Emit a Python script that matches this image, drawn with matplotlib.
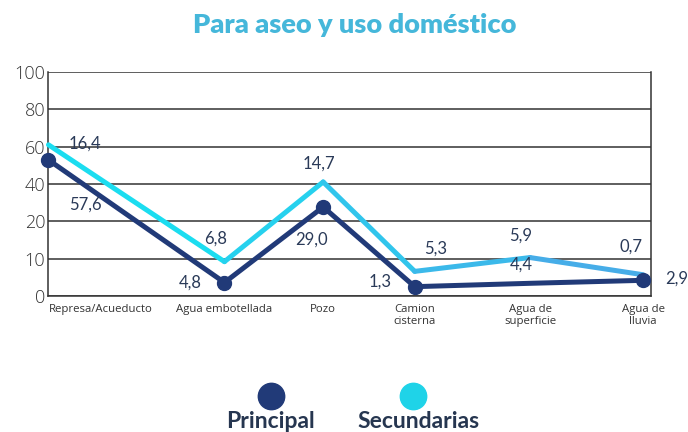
import numpy as np
import matplotlib
matplotlib.use("Agg")
import matplotlib.pyplot as plt
from matplotlib.lines import Line2D
from matplotlib.colors import LinearSegmentedColormap

# ---- data ----
categories = ["Represa/Acueducto", "Agua embotellada", "Pozo",
              "Camion\ncisterna", "Agua de\nsuperficie", "Agua de\nlluvia"]
principal_plot = [52.9, 3.6, 27.7, 2.5, 3.4, 4.2]
secundarias_plot = [61.0, 9.2, 41.1, 6.6, 10.3, 5.7]
principal_labels = ["57,6", "4,8", "29,0", "1,3", "4,4", "2,9"]
secundarias_labels = ["16,4", "6,8", "14,7", "5,3", "5,9", "0,7"]
y_ticks = [0, 10, 20, 40, 60, 80, 100]

# layout (category placement along the axis, irregular as in the source)
x_pos = [0, 1.48, 2.31, 3.08, 4.05, 5.0]

navy = "#213A78"
cyan_l = "#1BDDF0"
cyan_r = "#46ADE8"
text_dark = "#2A3A58"

plt.rcParams['font.family'] = ['Open Sans', 'DejaVu Sans']

fig = plt.figure(figsize=(6.88, 4.32), dpi=100)
ax = fig.add_axes([48 / 688, 1 - 296 / 432, (651 - 48) / 688, (296 - 72) / 432])

# piecewise scale: ticks equally spaced
pos = np.arange(len(y_ticks), dtype=float)
vals = np.array(y_ticks, dtype=float)
fwd = lambda v: np.interp(v, vals, pos)
inv = lambda p: np.interp(p, pos, vals)
ax.set_yscale('function', functions=(fwd, inv))
ax.set_ylim(0, 100)
ax.set_yticks(y_ticks)
ax.set_yticklabels([str(t) for t in y_ticks], fontsize=13, color="#333333",
                   fontweight='light')
ax.set_xlim(-0.004, 5.067)

for t in y_ticks:
    ax.axhline(t, color="#333333", lw=1.1, zorder=1)

for s in ["left", "right", "bottom"]:
    ax.spines[s].set_color("#333333")
    ax.spines[s].set_linewidth(1.1)
ax.spines["top"].set_visible(False)
ax.tick_params(axis='y', length=0, pad=2)
ax.tick_params(axis='x', length=0, pad=6)

ax.set_xticks(x_pos)
ax.set_xticklabels(categories, fontsize=8.2, color="#333333", linespacing=1.1)
tl = ax.get_xticklabels()
tl[0].set_horizontalalignment('left')
tl[0].set_x(-0.004)

# cyan line with gradient
cmap = LinearSegmentedColormap.from_list("c", [cyan_l, cyan_r])
n = len(x_pos)
for i in range(n - 1):
    ax.plot(x_pos[i:i + 2], secundarias_plot[i:i + 2], color=cmap(i / (n - 2)),
            lw=3.6, solid_capstyle='round', zorder=3, clip_on=False)

ax.plot(x_pos, principal_plot, color=navy, lw=3.6, zorder=4,
        solid_capstyle='round', solid_joinstyle='miter', clip_on=False)
mk = [0, 1, 2, 3, 5]
ax.plot([x_pos[i] for i in mk], [principal_plot[i] for i in mk], 'o',
        color=navy, ms=10, zorder=5, clip_on=False)

# data labels (offsets in points)
k = 0.72
p_off = [(37, -45), (-34, 0), (-12, -33), (-35, 5), (-9, 19), (34, 2)]
s_off = [(36, 1), (-9, 23), (-4, 18), (21, 23), (-9, 22), (-12, 28)]
for i in range(n):
    ax.annotate(principal_labels[i], (x_pos[i], principal_plot[i]),
                xytext=(p_off[i][0] * k, p_off[i][1] * k), textcoords='offset points',
                ha='center', va='center', fontsize=12, color=text_dark,
                family=['Lato', 'DejaVu Sans'], annotation_clip=False, zorder=6)
    ax.annotate(secundarias_labels[i], (x_pos[i], secundarias_plot[i]),
                xytext=(s_off[i][0] * k, s_off[i][1] * k), textcoords='offset points',
                ha='center', va='center', fontsize=12, color=text_dark,
                family=['Lato', 'DejaVu Sans'], annotation_clip=False, zorder=6)

# title
fig.text(355 / 688, 1 - 25 / 432, "Para aseo y uso doméstico", ha='center', va='center',
         fontsize=19.5, fontweight='heavy', color="#45B7DA", family=['Lato', 'DejaVu Sans'])

# legend
fig.add_artist(Line2D([271 / 688], [1 - 396 / 432], marker='o', ms=19, color=navy,
                      transform=fig.transFigure, linestyle='none'))
fig.add_artist(Line2D([413 / 688], [1 - 396 / 432], marker='o', ms=19, color="#1FD3E8",
                      transform=fig.transFigure, linestyle='none'))
fig.text(270 / 688, 1 - 421 / 432, "Principal", ha='center', va='center', fontsize=16.5,
         fontweight='bold', color="#263650", family=['Lato', 'DejaVu Sans'])
fig.text(418 / 688, 1 - 422 / 432, "Secundarias", ha='center', va='center', fontsize=16.5,
         fontweight='bold', color="#263650", family=['Lato', 'DejaVu Sans'])

fig.savefig("out.png", dpi=100)
